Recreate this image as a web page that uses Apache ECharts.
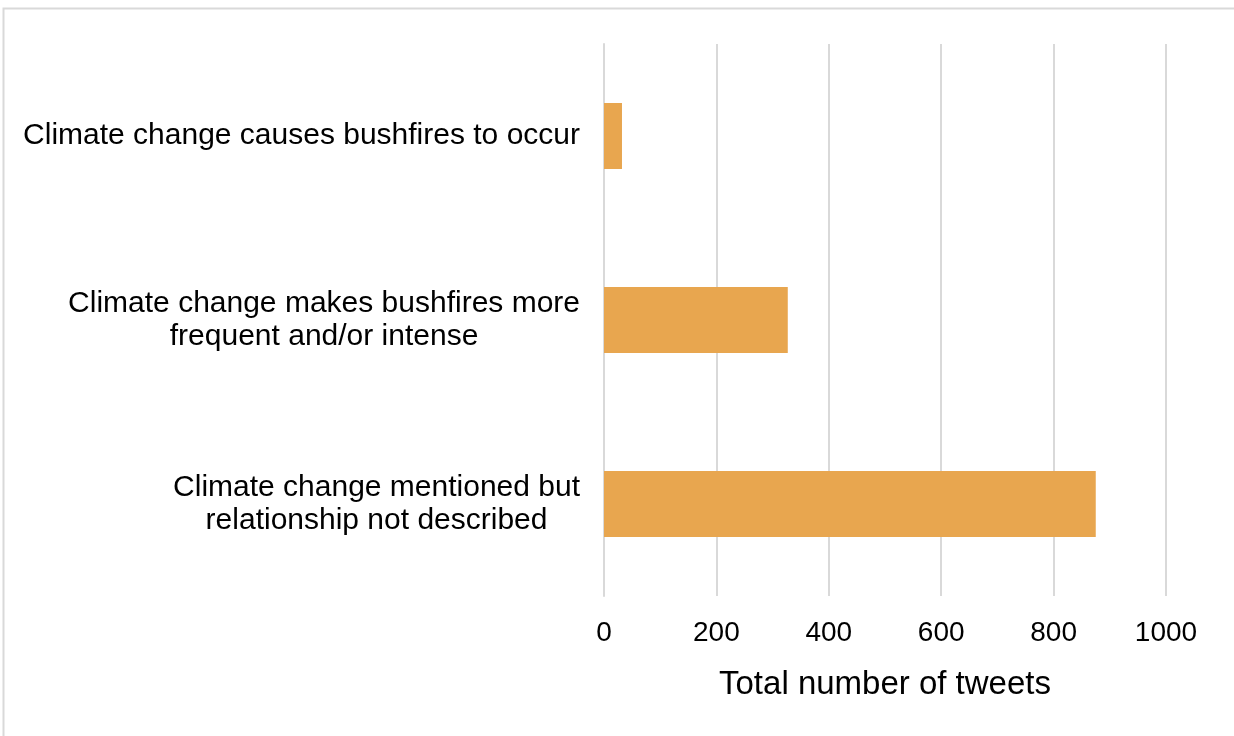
<!DOCTYPE html>
<html>
<head>
<meta charset="utf-8">
<script src="https://cdn.jsdelivr.net/npm/echarts@6/dist/echarts.min.js"></script>
<style>
  html, body { margin: 0; padding: 0; background: #ffffff; }
  #chart { width: 1234px; height: 736px; }
</style>
</head>
<body>
<div id="chart"></div>
<script>
// Categories listed bottom-to-top (ECharts category y-axis starts at the bottom)
const categories = [
  'Climate change mentioned but\nrelationship not described',
  'Climate change makes bushfires more\nfrequent and/or intense',
  'Climate change causes bushfires to occur'
];
const tweetCounts = [875, 327, 32];
const xTicks = { min: 0, max: 1000, interval: 200 };
const xAxisTitle = 'Total number of tweets';

const FONT = 'Liberation Sans, Arial, sans-serif';

const chart = echarts.init(document.getElementById('chart'), null, { renderer: 'canvas' });

chart.setOption({
  animation: false,
  backgroundColor: '#ffffff',
  graphic: [{
    type: 'rect',
    shape: { x: 3.5, y: 8.5, width: 1400, height: 900 },
    style: { fill: 'none', stroke: '#d9d9d9', lineWidth: 2 },
    silent: true
  }],
  grid: { left: 604, right: 68, top: 44, bottom: 140, containLabel: false },
  xAxis: {
    type: 'value',
    min: xTicks.min,
    max: xTicks.max,
    interval: xTicks.interval,
    name: xAxisTitle,
    nameLocation: 'middle',
    nameGap: 72,
    nameTextStyle: { fontFamily: FONT, fontSize: 33, color: '#000000' },
    axisLine: { show: false },
    axisTick: { show: false },
    axisLabel: {
      fontFamily: FONT, fontSize: 28, color: '#000000', margin: 23,
      formatter: function (v) { return String(v); }
    },
    splitLine: { show: true, lineStyle: { color: '#d9d9d9', width: 2 } }
  },
  yAxis: {
    type: 'category',
    data: categories,
    axisLine: { show: true, lineStyle: { color: '#d9d9d9', width: 2 } },
    axisTick: { show: false },
    axisLabel: {
      margin: 24,
      formatter: function (v) {
        return v.split('\n').map(function (l) { return '{c|' + l + '}'; }).join('\n');
      },
      rich: {
        c: { fontFamily: FONT, fontSize: 30, color: '#000000', align: 'center', lineHeight: 33 }
      }
    }
  },
  series: [{
    type: 'bar',
    data: tweetCounts,
    barCategoryGap: '64%',
    itemStyle: { color: '#E8A64F' },
    silent: true
  }]
});
</script>
</body>
</html>
